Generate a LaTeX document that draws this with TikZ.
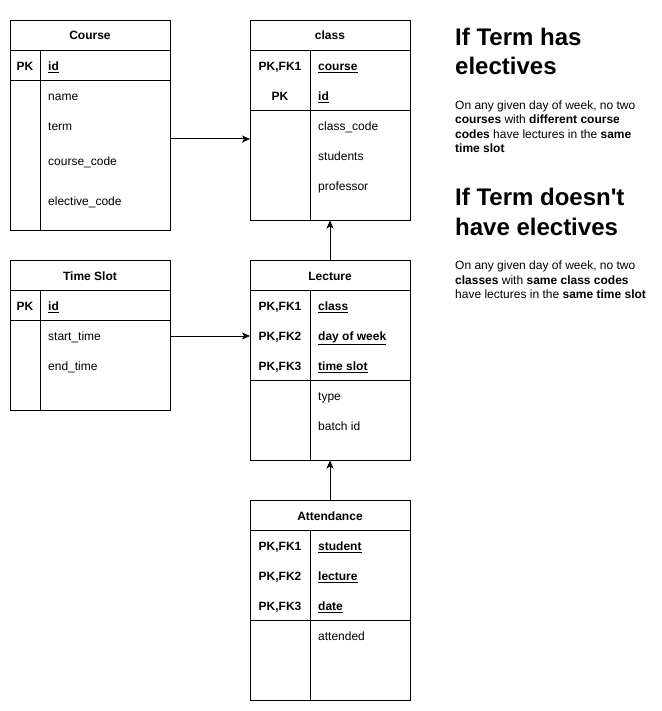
\documentclass[tikz,border=0pt]{standalone}
\usepackage{fontspec}
\setmainfont{Liberation Sans}
\newfontfamily\plainsans{Liberation Sans}
\usetikzlibrary{arrows.meta}
\begin{document}
\begin{tikzpicture}[x=1pt,y=-1pt,
  font=\fontsize{12}{14}\selectfont,
  tbl/.style={draw, line width=1pt, minimum width=160pt, inner sep=0pt, outer sep=0pt, anchor=north west},
  ln/.style={line width=1pt},
  hdr/.style={anchor=base, inner sep=0pt, font=\fontsize{12}{14}\selectfont\bfseries},
  keyl/.style={anchor=base, inner sep=0pt, font=\fontsize{12}{14}\selectfont\bfseries},
  fld/.style={anchor=base west, inner sep=0pt},
  kfld/.style={anchor=base west, inner sep=0pt, font=\fontsize{12}{14}\selectfont\bfseries},
  big/.style={anchor=base west, inner sep=0pt, font=\plainsans\fontsize{24}{28}\selectfont\bfseries},
  body/.style={anchor=base west, inner sep=0pt},
  arr/.style={line width=1pt, -{Stealth[length=8pt,width=7pt,inset=2pt]}}]
\useasboundingbox (0,0) rectangle (661,711);

% ---------- Course ----------
\node[tbl, minimum height=210pt] (course) at (10,20.5) {};
\draw[ln] (10,50.5) -- (170,50.5);
\draw[ln] (10,80.5) -- (170,80.5);
\draw[ln] (40,50.5) -- (40,230.5);
\node[hdr] (courseT) at (90,40) {Course};
\node[keyl] (courseK1) at (25,70.5) {PK};
\node[kfld] (courseF1) at (48,70.5) {\underline{id}};
\node[fld] (courseF2) at (48,100.5) {name};
\node[fld] (courseF3) at (48,130.5) {term};
\node[fld] (courseF4) at (48,165.5) {course\_code};
\node[fld] (courseF5) at (48,205.5) {elective\_code};

% ---------- class ----------
\node[tbl, minimum height=200pt] (class) at (250,20.5) {};
\draw[ln] (250,50.5) -- (410,50.5);
\draw[ln] (250,110.5) -- (410,110.5);
\draw[ln] (310,50.5) -- (310,220.5);
\node[hdr] (classT) at (330,40) {class};
\node[keyl] (classK1) at (280,70.5) {PK,FK1};
\node[keyl] (classK2) at (280,100.5) {PK};
\node[kfld] (classF1) at (318,70.5) {\underline{course}};
\node[kfld] (classF2) at (318,100.5) {\underline{id}};
\node[fld] (classF3) at (318,130.5) {class\_code};
\node[fld] (classF4) at (318,160.5) {students};
\node[fld] (classF5) at (318,190.5) {professor};

% ---------- Time Slot ----------
\node[tbl, minimum height=150pt] (ts) at (10,260.5) {};
\draw[ln] (10,290.5) -- (170,290.5);
\draw[ln] (10,320.5) -- (170,320.5);
\draw[ln] (40,290.5) -- (40,410.5);
\node[hdr] (tsT) at (90,280) {Time Slot};
\node[keyl] (tsK1) at (25,310.5) {PK};
\node[kfld] (tsF1) at (48,310.5) {\underline{id}};
\node[fld] (tsF2) at (48,340.5) {start\_time};
\node[fld] (tsF3) at (48,370.5) {end\_time};

% ---------- Lecture ----------
\node[tbl, minimum height=200pt] (lec) at (250,260.5) {};
\draw[ln] (250,290.5) -- (410,290.5);
\draw[ln] (250,380.5) -- (410,380.5);
\draw[ln] (310,290.5) -- (310,460.5);
\node[hdr] (lecT) at (330,280) {Lecture};
\node[keyl] (lecK1) at (280,310.5) {PK,FK1};
\node[keyl] (lecK2) at (280,340.5) {PK,FK2};
\node[keyl] (lecK3) at (280,370.5) {PK,FK3};
\node[kfld] (lecF1) at (318,310.5) {\underline{class}};
\node[kfld] (lecF2) at (318,340.5) {\underline{day of week}};
\node[kfld] (lecF3) at (318,370.5) {\underline{time slot}};
\node[fld] (lecF4) at (318,400.5) {type};
\node[fld] (lecF5) at (318,430.5) {batch id};

% ---------- Attendance ----------
\node[tbl, minimum height=200pt] (att) at (250,500.5) {};
\draw[ln] (250,530.5) -- (410,530.5);
\draw[ln] (250,620.5) -- (410,620.5);
\draw[ln] (310,530.5) -- (310,700.5);
\node[hdr] (attT) at (330,520) {Attendance};
\node[keyl] (attK1) at (280,550.5) {PK,FK1};
\node[keyl] (attK2) at (280,580.5) {PK,FK2};
\node[keyl] (attK3) at (280,610.5) {PK,FK3};
\node[kfld] (attF1) at (318,550.5) {\underline{student}};
\node[kfld] (attF2) at (318,580.5) {\underline{lecture}};
\node[kfld] (attF3) at (318,610.5) {\underline{date}};
\node[fld] (attF4) at (318,640.5) {attended};

% ---------- connectors ----------
\coordinate (c1) at (170,139);
\draw[arr] (c1) -- (c1 -| class.west);
\coordinate (c2) at (170,336);
\draw[arr] (c2) -- (c2 -| lec.west);
\draw[arr] (lec.north) -- (class.south);
\draw[arr] (att.north) -- (lec.south);

% ---------- notes ----------
\node[big] (h1a) at (455,46) {If Term has};
\node[big] (h1b) at (455,75) {electives};
\node[body] (p1a) at (455,109.5) {On any given day of week, no two};
\node[body] (p1b) at (455,124) {\textbf{courses} with \textbf{different course}};
\node[body] (p1c) at (455,138.5) {\textbf{codes} have lectures in the \textbf{same}};
\node[body] (p1d) at (455,153) {\textbf{time slot}};

\node[big] (h2a) at (455,206) {If Term doesn't};
\node[big] (h2b) at (455,235) {have electives};
\node[body] (p2a) at (455,269.5) {On any given day of week, no two};
\node[body] (p2b) at (455,284) {\textbf{classes} with \textbf{same class codes}};
\node[body] (p2c) at (455,298.5) {have lectures in the \textbf{same time slot}};
\end{tikzpicture}
\end{document}
